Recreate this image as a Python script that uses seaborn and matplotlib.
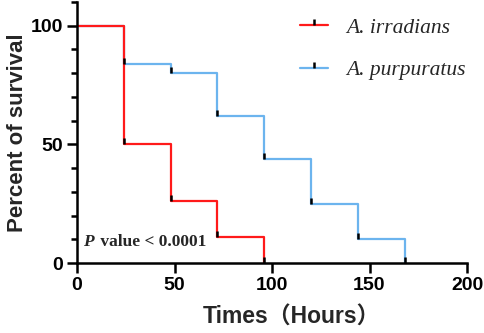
import numpy as np
import pandas as pd
import matplotlib
matplotlib.use('Agg')
import matplotlib.pyplot as plt
import seaborn as sns
from matplotlib.ticker import MultipleLocator

# 생존 곡선 데이터 (시간, 생존율 %)
time_irr = [0, 24, 48, 72, 96]
surv_irr = [100, 50, 26, 11, 0]
time_pur = [0, 24, 48, 72, 96, 120, 144, 168]
surv_pur = [100, 84, 80, 62, 44, 25, 10, 0]

label_irr = 'A. irradians'
label_pur = 'A. purpuratus'
red, blue = '#FF1A1A', '#6CB4EE'

sns.set_style('ticks')
plt.rcParams['font.family'] = ['Liberation Sans', 'Noto Sans CJK SC']

fig = plt.figure(figsize=(4.84, 3.33), dpi=100)
ax = fig.add_axes([77 / 484, 70 / 333, 390 / 484, 261 / 333])

df = pd.concat([
    pd.DataFrame({'t': time_irr, 's': surv_irr, 'g': label_irr}),
    pd.DataFrame({'t': time_pur, 's': surv_pur, 'g': label_pur}),
])

# 계단형 곡선 (파랑 먼저, 빨강 위)
sns.lineplot(data=df, x='t', y='s', hue='g', hue_order=[label_pur, label_irr],
             palette={label_irr: red, label_pur: blue},
             drawstyle='steps-post', linewidth=1.6, legend=False, ax=ax)

# 사건 지점의 검은 틱 마커
tick_marker = [(0, 0), (0, 1)]
for t, s in [(time_pur, surv_pur), (time_irr, surv_irr)]:
    ax.plot(t[1:], s[1:], linestyle='none', marker=tick_marker, markersize=9,
            markeredgewidth=1.8, color='black')

ax.set_xlim(0, 200)
ax.set_ylim(0, 110)
ax.xaxis.set_major_locator(MultipleLocator(50))
ax.yaxis.set_minor_locator(MultipleLocator(10))
ax.set_yticks([0, 50, 100])

for sp in ['left', 'bottom']:
    ax.spines[sp].set_linewidth(1.8)
    ax.spines[sp].set_color('black')
sns.despine(ax=ax)
ax.tick_params(axis='both', which='major', length=7, width=1.8, labelsize=14,
               colors='black', pad=3)
ax.tick_params(axis='y', which='minor', length=4.5, width=1.8, colors='black')
for lab in ax.get_xticklabels() + ax.get_yticklabels():
    lab.set_fontweight('bold')

ax.set_xlabel('Times（Hours）', fontsize=16.5, fontweight='bold')
ax.xaxis.set_label_coords(0.55, -0.165)
ax.set_ylabel('Percent of survival', fontsize=16, fontweight='bold', labelpad=2)

# 범례
h_irr, = ax.plot([], [], color=red, linewidth=1.6, marker=tick_marker,
                 markersize=9, markeredgecolor='black', markeredgewidth=1.8)
h_pur, = ax.plot([], [], color=blue, linewidth=1.6, marker=tick_marker,
                 markersize=9, markeredgecolor='black', markeredgewidth=1.8)
ax.legend([h_irr, h_pur], [label_irr, label_pur], loc='upper right',
          bbox_to_anchor=(1.045, 1.015), frameon=False, handlelength=1.3,
          handletextpad=0.8, labelspacing=1.05,
          prop={'family': 'Liberation Serif', 'style': 'italic', 'size': 15.5})

ax.annotate('P', xy=(3, 7), fontsize=12.5, family='Liberation Serif',
            style='italic', fontweight='bold')
ax.annotate(' value < 0.0001', xy=(10, 7), fontsize=12.5, family='Liberation Serif',
            fontweight='bold')

fig.savefig('out.png', dpi=100)
